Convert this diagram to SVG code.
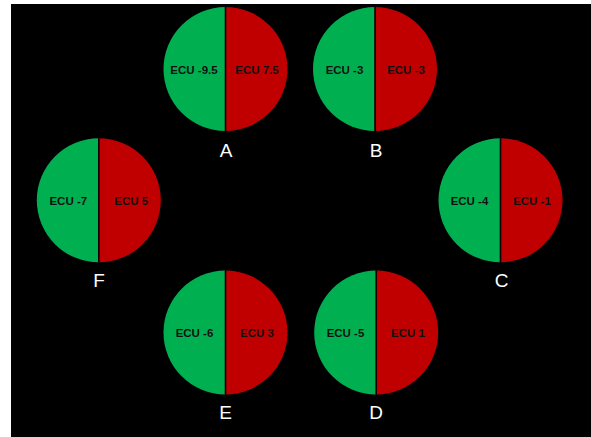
<svg xmlns="http://www.w3.org/2000/svg" width="591" height="437" viewBox="0 0 591 437">
<style>
.g{fill:#00B050}
.r{fill:#C00000}
.div{stroke:#000;stroke-width:1.6}
.v{font-family:"Liberation Sans",Arial,sans-serif;font-weight:bold;font-size:11.5px;fill:#111;text-anchor:middle}
.lab{font-family:"Liberation Sans",Arial,sans-serif;font-size:19px;fill:#fff;text-anchor:middle}
</style>
<defs>
<g id="disc">
<path class="g" d="M0,-62 A62,62 0 0 0 0,62 Z"/>
<path class="r" d="M0,-62 A62,62 0 0 1 0,62 Z"/>
<line class="div" x1="0" y1="-62" x2="0" y2="62"/>
</g>
</defs>
<rect x="11" y="4" width="580" height="433" fill="#000"/>
<g id="A">
<use href="#disc" x="225.5" y="69"/>
<text class="v" x="194" y="73.5">ECU -9.5</text>
<text class="v" x="257" y="73.5">ECU 7.5</text>
<text class="lab" x="226" y="157">A</text>
</g>
<g id="B">
<use href="#disc" x="375" y="69"/>
<text class="v" x="344.5" y="73.5">ECU -3</text>
<text class="v" x="406" y="73.5">ECU -3</text>
<text class="lab" x="376" y="156.5">B</text>
</g>
<g id="C">
<use href="#disc" x="500.5" y="200.3"/>
<text class="v" x="469.5" y="205">ECU -4</text>
<text class="v" x="532" y="205">ECU -1</text>
<text class="lab" x="501.5" y="287">C</text>
</g>
<g id="D">
<use href="#disc" x="376.2" y="332.5"/>
<text class="v" x="345.5" y="337">ECU -5</text>
<text class="v" x="408" y="337">ECU 1</text>
<text class="lab" x="376" y="419">D</text>
</g>
<g id="E">
<use href="#disc" x="225.5" y="332.5"/>
<text class="v" x="194.5" y="337">ECU -6</text>
<text class="v" x="257" y="337">ECU 3</text>
<text class="lab" x="225.5" y="419">E</text>
</g>
<g id="F">
<use href="#disc" x="98.8" y="200.3"/>
<text class="v" x="68.3" y="205">ECU -7</text>
<text class="v" x="131.3" y="205">ECU 5</text>
<text class="lab" x="99" y="287">F</text>
</g>
</svg>
